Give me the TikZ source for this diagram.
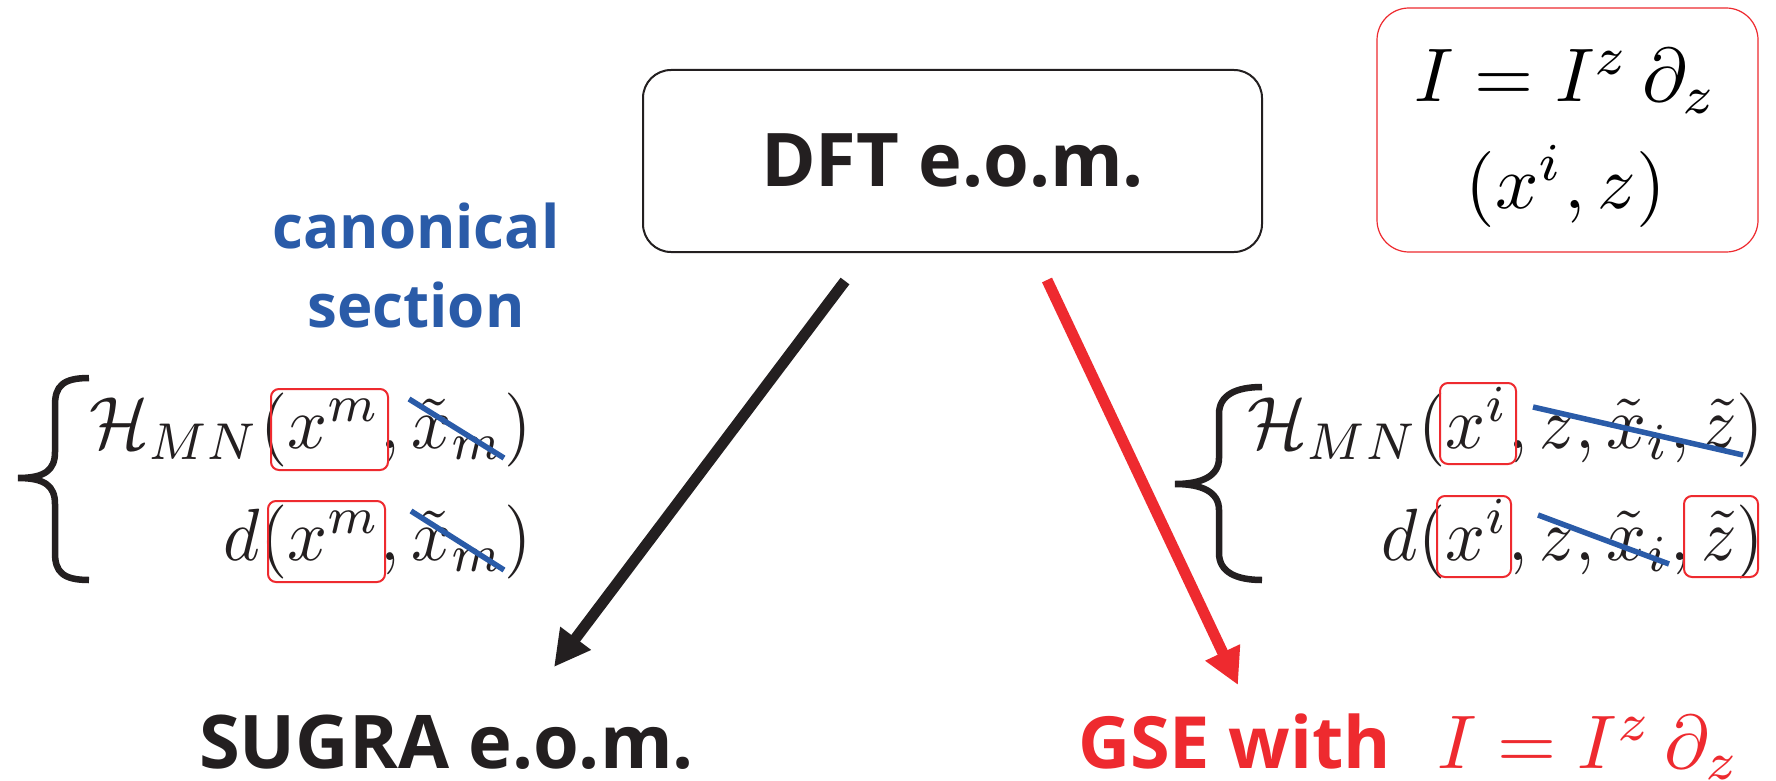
\documentclass[tikz,border=0pt]{standalone}
\usepackage{graphicx}
\usepackage{fontspec}
\newfontfamily\osans{Open Sans}
\usetikzlibrary{arrows.meta}
\definecolor{ink}{RGB}{35,31,32}
\definecolor{secblue}{RGB}{42,91,168}
\definecolor{gsered}{RGB}{238,42,47}
% math set at 10pt and enlarged
\newcommand{\bigmath}[2]{\scalebox{#1}{$#2$}}
\newcommand{\eqmath}[1]{\scalebox{3.5}[3.7]{$#1$}}

\begin{document}
\begin{tikzpicture}[x=0.5pt,y=-0.5pt,
  every node/.style={inner sep=0pt, outer sep=0pt},
  labelbf/.style={font=\osans\bfseries\fontsize{37}{44}\selectfont, text=ink},
  bluebf/.style={font=\osans\bfseries\fontsize{30}{38}\selectfont, text=secblue},
  eqtext/.style={text=ink},
  hitbox/.style={draw=gsered, line width=1pt, rounded corners=4pt, minimum height=40.5pt},
  strike/.style={draw=secblue, line width=2.75pt},
  bracepath/.style={draw=ink, line width=3.25pt},
  flowarrow/.style={line width=5.5pt, -{Triangle[length=18pt,width=18pt]}},
]
% canvas
\fill[white] (0,0) rectangle (1776,781);
\useasboundingbox (0,0) rectangle (1776,781);

% source box
\node[labelbf, draw=ink, line width=1pt, rounded corners=14pt,
      minimum width=309.5pt, minimum height=91pt] (dft) at (952.5,161) {DFT e.o.m.};

% twist vector box
\node[draw=gsered, line width=0.6pt, rounded corners=16pt,
      minimum width=190.5pt, minimum height=122pt] (ibox) at (1567.5,130) {};
\node[anchor=base] (ieq) at (1566,102) {\bigmath{3.8}{I = I^z\,\partial_z}};
\node[anchor=base] (icoord) at (1566,208) {\bigmath{3.8}{(x^i, z)}};

% section label
\node[bluebf, anchor=base] (canon) at (416,248) {canonical};
\node[bluebf, anchor=base] (sect) at (416,327) {section};

% left dependence
\draw[bracepath] (89,378) .. controls (63,378) and (55,386) .. (55,405) -- (55,452)
  .. controls (55,470) and (45,478) .. (18,478)
  .. controls (45,478) and (55,486) .. (55,504) -- (55,553)
  .. controls (55,572) and (63,580) .. (89,580);
\node[eqtext, anchor=base east] (eqL1) at (532,448) {\eqmath{\mathcal{H}_{MN}(x^m,\tilde{x}_m)}};
\node[eqtext, anchor=base east] (eqL2) at (532,560) {\eqmath{d(x^m,\tilde{x}_m)}};
\node[hitbox, minimum width=58.5pt] (bxL1) at (329.5,429.5) {};
\node[hitbox, minimum width=58.5pt] (bxL2) at (326.5,541.5) {};
\draw[strike] (409,399) -- (504,458);
\draw[strike] (411,511) -- (504,570);

% right dependence
\draw[bracepath] (1262,387) .. controls (1236,387) and (1219,395) .. (1219,414) -- (1219,458)
  .. controls (1219,476) and (1202,484) .. (1175,484)
  .. controls (1202,484) and (1219,492) .. (1219,510) -- (1219,553)
  .. controls (1219,572) and (1236,580) .. (1262,580);
\node[eqtext, anchor=base east] (eqR1) at (1764,448) {\eqmath{\mathcal{H}_{MN}(x^i,z,\tilde{x}_i,\tilde{z})}};
\node[eqtext, anchor=base east] (eqR2) at (1764,560) {\eqmath{d(x^i,z,\tilde{x}_i,\tilde{z})}};
\node[hitbox, minimum width=38pt] (bxR1) at (1478,423.5) {};
\node[hitbox, minimum width=37pt] (bxR2) at (1474,536.5) {};
\node[hitbox, minimum width=37pt] (bxR3) at (1721,536.5) {};
\draw[strike] (1533,407) -- (1743,455);
\draw[strike] (1538,515) -- (1669,564);

% targets
\node[labelbf, anchor=base west] (sugra) at (199,768) {SUGRA e.o.m.};
\node[labelbf, font=\osans\bfseries\fontsize{36}{44}\selectfont, text=gsered, anchor=base west] (gse) at (1078,768) {GSE with};
\node[text=gsered, anchor=base west] (gsemath) at (1437,768) {\bigmath{3.8}{I = I^z\,\partial_z}};

% reductions
\coordinate (blkS) at (845,281);
\coordinate (blkE) at (554,667);
\coordinate (redS) at (1047,280);
\coordinate (redE) at (1238,685);
\draw[flowarrow, color=ink] (blkS) -- (blkE);
\draw[flowarrow, color=gsered] (redS) -- (redE);
\end{tikzpicture}
\end{document}
